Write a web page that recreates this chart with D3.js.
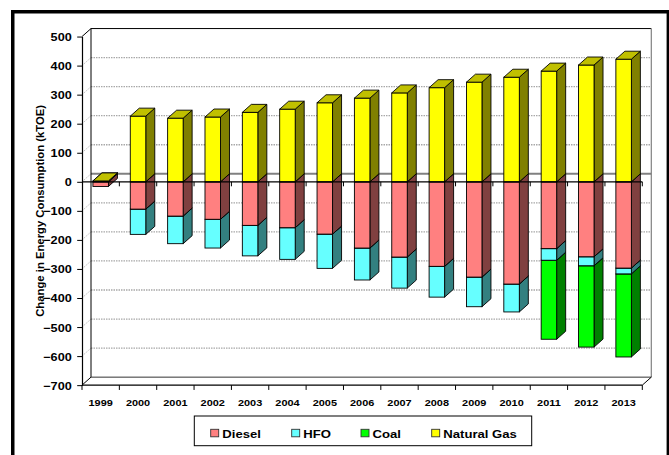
<!DOCTYPE html>
<html>
<head>
<meta charset="utf-8">
<script src="https://cdn.jsdelivr.net/npm/d3@7"></script>
<style>
  html, body { margin: 0; padding: 0; background: #fff; }
  svg { display: block; }
  text { font-family: "Liberation Sans", Arial, sans-serif; font-weight: bold; fill: #000; }
</style>
</head>
<body>
<svg id="chart" width="669" height="455"></svg>
<script>
// Change in energy consumption by fuel, relative to the base year (kTOE)
const years = ["1999","2000","2001","2002","2003","2004","2005","2006","2007","2008","2009","2010","2011","2012","2013"];
const diesel     = [-16, -94, -118, -129, -150, -158, -180, -228, -259, -291, -328, -352, -230, -258, -297];
const hfo        = [  3, -87,  -95,  -99, -105, -109, -118, -110, -107, -106, -102,  -96,  -40,  -31,  -20];
const coal       = [  0,   0,    0,    0,    0,    0,    0,    0,    0,    0,    0,    0, -272, -280, -286];
const naturalGas = [  0, 226,  219,  223,  239,  250,  272,  288,  306,  324,  343,  360,  381,  402,  422];
const yTicks = [-700, -600, -500, -400, -300, -200, -100, 0, 100, 200, 300, 400, 500];

const seriesNames = ["Diesel", "HFO", "Coal", "Natural Gas"];
const seriesValues = [diesel, hfo, coal, naturalGas];
const faceColors = [
  { front: "#ff8080", side: "#804040", top: "#c06060" },
  { front: "#66ffff", side: "#338080", top: "#4dc0c0" },
  { front: "#00ff00", side: "#008000", top: "#00c000" },
  { front: "#ffff00", side: "#808000", top: "#c0c000" }
];

const svg = d3.select("#chart");

// 3D projection: depth offset of the back plane
const DX = 9, DY = 8;
const left = 82, right = 642.3;

const x = d3.scaleBand().domain(years).range([left, right]).paddingInner(0.585).paddingOuter(0.2925);
const y = d3.scaleLinear().domain([-700, 500]).range([385.15, 36.55]);
const slot = d3.scaleLinear().domain([0, years.length]).range([left, right]);

function stretch(sel, k) {
  sel.each(function () {
    const w = this.getComputedTextLength();
    this.setAttribute("textLength", w * k);
    this.setAttribute("lengthAdjust", "spacingAndGlyphs");
  });
}

// Chart-area frame
svg.append("rect").attr("x", 12.75).attr("y", 11.75).attr("width", 655.6).attr("height", 460)
  .attr("fill", "#fff").attr("stroke", "#000").attr("stroke-width", 3.5);

const walls = svg.append("g");
const yMin = -700, yMax = 500;

// Back wall gridlines and side-wall diagonals
const gridVals = yTicks.filter(v => v !== yMin && v !== yMax && v !== 0);
walls.selectAll("line.grid").data(gridVals).join("line")
  .attr("x1", left + DX).attr("x2", right + DX)
  .attr("y1", d => y(d) - DY).attr("y2", d => y(d) - DY)
  .attr("stroke", "#a8a8a8").attr("stroke-width", 1.3).attr("stroke-dasharray", "1.5,1");
walls.selectAll("line.diag").data(gridVals.concat([0])).join("line")
  .attr("x1", left).attr("x2", left + DX)
  .attr("y1", d => y(d)).attr("y2", d => y(d) - DY)
  .attr("stroke", "#c0c0c0").attr("stroke-width", 1).attr("stroke-dasharray", "1.5,1");

// Zero level on the back wall
walls.append("line")
  .attr("x1", left + DX).attr("x2", right + DX)
  .attr("y1", y(0) - DY).attr("y2", y(0) - DY)
  .attr("stroke", "#808080").attr("stroke-width", 2);

// Wall edges
walls.append("line").attr("x1", left + DX).attr("x2", right + DX)
  .attr("y1", y(yMax) - DY).attr("y2", y(yMax) - DY).attr("stroke", "#000").attr("stroke-width", 1);
walls.append("line").attr("x1", left + DX).attr("x2", left + DX)
  .attr("y1", y(yMax) - DY).attr("y2", y(yMin) - DY).attr("stroke", "#000").attr("stroke-width", 1);
walls.append("line").attr("x1", right + DX).attr("x2", right + DX)
  .attr("y1", y(yMax) - DY).attr("y2", y(yMin) - DY).attr("stroke", "#808080").attr("stroke-width", 1.2);
walls.append("line").attr("x1", left + DX).attr("x2", right + DX)
  .attr("y1", y(yMin) - DY).attr("y2", y(yMin) - DY).attr("stroke", "#333").attr("stroke-width", 1);
walls.append("line").attr("x1", left).attr("x2", left + DX)
  .attr("y1", y(yMax)).attr("y2", y(yMax) - DY).attr("stroke", "#000").attr("stroke-width", 1);
walls.append("line").attr("x1", left).attr("x2", left + DX)
  .attr("y1", y(yMin)).attr("y2", y(yMin) - DY).attr("stroke", "#000").attr("stroke-width", 1);
walls.append("line").attr("x1", right).attr("x2", right + DX)
  .attr("y1", y(yMin)).attr("y2", y(yMin) - DY).attr("stroke", "#000").attr("stroke-width", 1);

// Stack the series: negatives downward from zero, positives upward
const segments = [];
years.forEach((yr, i) => {
  let pos = 0, neg = 0;
  const negSegs = [], posSegs = [];
  seriesValues.forEach((vals, s) => {
    const v = vals[i];
    const last = s === seriesValues.length - 1;
    if (v < 0) { negSegs.push({ yr, s, y0: neg + v, y1: neg }); neg += v; }
    else if (v > 0 || last) { posSegs.push({ yr, s, y0: pos, y1: pos + v }); pos += v; }
  });
  negSegs.reverse();
  segments.push(...negSegs, ...posSegs);
});

const bars = svg.append("g");
const bw = x.bandwidth();
const seg = bars.selectAll("g.seg").data(segments).join("g");
// right side face
seg.append("path")
  .attr("d", d => {
    const x1 = x(d.yr) + bw, yt = y(d.y1), yb = y(d.y0);
    return `M${x1},${yb}L${x1 + DX},${yb - DY}L${x1 + DX},${yt - DY}L${x1},${yt}Z`;
  })
  .attr("fill", d => faceColors[d.s].side).attr("stroke", "#000").attr("stroke-width", 0.9).attr("stroke-linejoin", "round");
// front face
seg.append("rect")
  .attr("x", d => x(d.yr)).attr("width", bw)
  .attr("y", d => y(d.y1)).attr("height", d => y(d.y0) - y(d.y1))
  .attr("fill", d => faceColors[d.s].front).attr("stroke", "#000").attr("stroke-width", 0.9);
// top face
seg.append("path")
  .attr("d", d => {
    const x0 = x(d.yr), x1 = x0 + bw, yt = y(d.y1);
    return `M${x0},${yt}L${x1},${yt}L${x1 + DX},${yt - DY}L${x0 + DX},${yt - DY}Z`;
  })
  .attr("fill", d => faceColors[d.s].top).attr("stroke", "#000").attr("stroke-width", 0.9).attr("stroke-linejoin", "round");

// Category axis crossing at zero
const zeroAxis = svg.append("g");
zeroAxis.append("line").attr("x1", left).attr("x2", right).attr("y1", y(0)).attr("y2", y(0))
  .attr("stroke", "#000").attr("stroke-width", 1.2);
zeroAxis.selectAll("line.t").data(d3.range(1, years.length + 1)).join("line")
  .attr("x1", d => slot(d)).attr("x2", d => slot(d))
  .attr("y1", y(0)).attr("y2", y(0) + 4.5).attr("stroke", "#000").attr("stroke-width", 1);

// Floor edge with category ticks and labels
const floor = svg.append("g");
floor.append("line").attr("x1", left).attr("x2", right).attr("y1", y(yMin)).attr("y2", y(yMin))
  .attr("stroke", "#000").attr("stroke-width", 1.2);
floor.selectAll("line.t").data(d3.range(0, years.length + 1)).join("line")
  .attr("x1", d => slot(d)).attr("x2", d => slot(d))
  .attr("y1", y(yMin)).attr("y2", y(yMin) + 4.8).attr("stroke", "#000").attr("stroke-width", 1);

const xAxis = svg.append("g").attr("transform", `translate(0,${y(yMin)})`)
  .call(d3.axisBottom(x).tickSize(0).tickPadding(0));
xAxis.select(".domain").remove();
xAxis.selectAll("text").attr("dy", null).attr("y", 21)
  .style("font-size", "9.5px").style("font-family", "'Liberation Sans', Arial, sans-serif").style("font-weight", "bold");
stretch(xAxis.selectAll("text"), 1.15);

// Value axis
const yAxis = svg.append("g").attr("transform", `translate(${left},0)`)
  .call(d3.axisLeft(y).tickValues(yTicks).tickSize(4.8).tickSizeOuter(0).tickPadding(5.5));
yAxis.select(".domain").attr("stroke", "#000").attr("stroke-width", 1.2);
yAxis.selectAll(".tick line").attr("stroke", "#000");
yAxis.selectAll("text").attr("dy", "0.36em")
  .style("font-size", "11px").style("font-family", "'Liberation Sans', Arial, sans-serif").style("font-weight", "bold");
stretch(yAxis.selectAll("text"), 1.15);

// Axis title
svg.append("text")
  .attr("transform", `translate(44,${(y(yMin) + y(yMax)) / 2}) rotate(-90)`)
  .attr("text-anchor", "middle")
  .style("font-size", "11.3px")
  .text("Change in Energy Consumption (kTOE)");

// Legend
const legend = svg.append("g");
legend.append("rect").attr("x", 194.3).attr("y", 416).attr("width", 337.4).attr("height", 29.7)
  .attr("fill", "#fff").attr("stroke", "#000").attr("stroke-width", 1);
const legendX = [210.7, 291.7, 361, 431.7];
const item = legend.selectAll("g.item").data(seriesNames).join("g")
  .attr("transform", (d, i) => `translate(${legendX[i]},0)`);
item.append("rect").attr("x", 0).attr("y", 429.3).attr("width", 8).attr("height", 7.5)
  .attr("fill", (d, i) => faceColors[i].front).attr("stroke", "#333").attr("stroke-width", 0.9);
const ltext = item.append("text").attr("x", 11.6).attr("y", 437.7).style("font-size", "11.5px").text(d => d);
stretch(ltext, 1.14);
</script>
</body>
</html>
